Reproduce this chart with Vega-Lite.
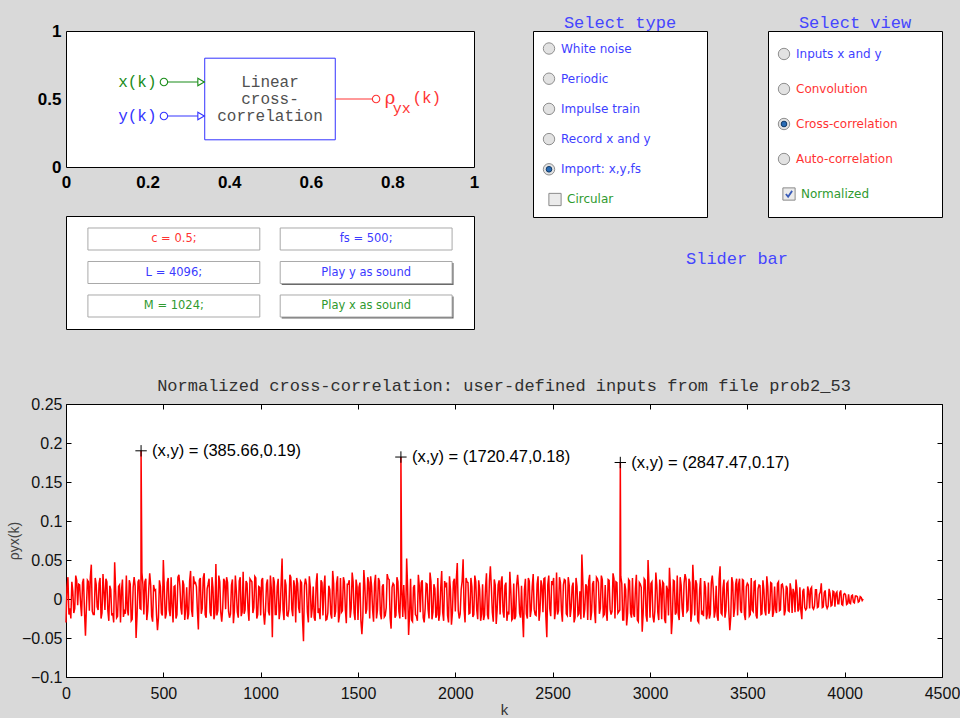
{
  "$schema": "https://vega.github.io/schema/vega-lite/v6.json",
  "background": "#d9d9d9",
  "padding": {"left": 7, "top": 13, "right": 0, "bottom": 0},
  "spacing": 46,
  "resolve": {"scale": {"color": "independent"}},
  "config": {
    "view": {"stroke": "#000000", "strokeWidth": 1, "fill": "#ffffff"},
    "axis": {"labelFlush": false, "labelOverlap": false, "grid": false, "domain": false, "labelBound": false},
    "title": {"fontWeight": "normal"}
  },
  "datasets": {
    "xcorr": [
      {"k":0,"r":-0.030},{"k":10,"r":0.028},{"k":20,"r":-0.012},{"k":30,"r":0.022},{"k":40,"r":-0.018},{"k":50,"r":0.030},{"k":60,"r":-0.008},{"k":70,"r":0.018},{"k":80,"r":-0.022},{"k":90,"r":0.026},
      {"k":100,"r":-0.047},{"k":110,"r":0.024},{"k":120,"r":-0.015},{"k":130,"r":0.044},{"k":140,"r":-0.020},{"k":150,"r":0.027},{"k":160,"r":-0.010},{"k":170,"r":0.020},{"k":180,"r":-0.025},{"k":190,"r":0.032},
      {"k":200,"r":-0.014},{"k":210,"r":0.022},{"k":220,"r":-0.028},{"k":230,"r":0.012},{"k":240,"r":-0.018},{"k":250,"r":0.047},{"k":260,"r":-0.024},{"k":270,"r":0.016},{"k":280,"r":-0.030},{"k":290,"r":0.025},
      {"k":300,"r":-0.016},{"k":310,"r":0.030},{"k":320,"r":-0.021},{"k":330,"r":0.019},{"k":340,"r":-0.026},{"k":350,"r":0.028},{"k":360,"r":-0.050},{"k":370,"r":0.022},{"k":380,"r":-0.012},{"k":385.66,"r":0.19},{"k":390,"r":0.034},
      {"k":400,"r":-0.020},{"k":410,"r":0.026},{"k":420,"r":-0.015},{"k":430,"r":0.033},{"k":440,"r":-0.022},{"k":450,"r":0.018},{"k":460,"r":0.012},{"k":470,"r":-0.040},{"k":480,"r":0.024},{"k":490,"r":-0.018},
      {"k":500,"r":0.050},{"k":510,"r":-0.025},{"k":520,"r":0.021},{"k":530,"r":-0.014},{"k":540,"r":0.028},{"k":550,"r":-0.030},{"k":560,"r":0.017},{"k":570,"r":-0.020},{"k":580,"r":0.031},{"k":590,"r":-0.011},
      {"k":600,"r":0.024},{"k":610,"r":-0.027},{"k":620,"r":0.015},{"k":630,"r":-0.019},{"k":640,"r":0.036},{"k":650,"r":-0.023},{"k":660,"r":0.020},{"k":670,"r":0.016},{"k":680,"r":-0.039},{"k":690,"r":0.027},
      {"k":700,"r":-0.012},{"k":710,"r":0.033},{"k":720,"r":-0.024},{"k":730,"r":0.019},{"k":740,"r":-0.017},{"k":750,"r":0.028},{"k":760,"r":-0.026},{"k":770,"r":0.045},{"k":780,"r":-0.015},{"k":790,"r":0.022},
      {"k":800,"r":-0.029},{"k":810,"r":0.026},{"k":820,"r":-0.013},{"k":830,"r":0.021},{"k":840,"r":-0.024},{"k":850,"r":0.018},{"k":860,"r":-0.031},{"k":870,"r":0.030},{"k":880,"r":-0.017},{"k":890,"r":0.023},
      {"k":900,"r":-0.022},{"k":910,"r":0.035},{"k":920,"r":-0.014},{"k":930,"r":0.020},{"k":940,"r":-0.028},{"k":950,"r":0.024},{"k":960,"r":-0.018},{"k":970,"r":0.029},{"k":980,"r":-0.025},{"k":990,"r":0.016},
      {"k":1000,"r":-0.021},{"k":1010,"r":0.027},{"k":1020,"r":-0.033},{"k":1030,"r":0.019},{"k":1040,"r":-0.016},{"k":1050,"r":0.030},{"k":1060,"r":-0.049},{"k":1070,"r":0.022},{"k":1080,"r":-0.020},{"k":1090,"r":0.026},
      {"k":1100,"r":-0.015},{"k":1110,"r":0.052},{"k":1120,"r":-0.027},{"k":1130,"r":0.018},{"k":1140,"r":-0.022},{"k":1150,"r":0.031},{"k":1160,"r":-0.013},{"k":1170,"r":0.024},{"k":1180,"r":-0.030},{"k":1190,"r":0.020},
      {"k":1200,"r":-0.018},{"k":1210,"r":0.021},{"k":1220,"r":-0.054},{"k":1230,"r":0.026},{"k":1240,"r":-0.017},{"k":1250,"r":0.029},{"k":1260,"r":-0.024},{"k":1270,"r":0.016},{"k":1280,"r":-0.028},{"k":1290,"r":0.033},
      {"k":1300,"r":-0.012},{"k":1310,"r":0.024},{"k":1320,"r":-0.021},{"k":1330,"r":0.030},{"k":1340,"r":-0.026},{"k":1350,"r":0.017},{"k":1360,"r":-0.019},{"k":1370,"r":0.036},{"k":1380,"r":-0.023},{"k":1390,"r":0.020},
      {"k":1400,"r":-0.030},{"k":1410,"r":0.027},{"k":1420,"r":-0.015},{"k":1430,"r":0.022},{"k":1440,"r":-0.031},{"k":1450,"r":0.019},{"k":1460,"r":-0.024},{"k":1470,"r":0.034},{"k":1480,"r":-0.018},{"k":1490,"r":0.025},
      {"k":1500,"r":-0.027},{"k":1510,"r":0.021},{"k":1520,"r":-0.045},{"k":1530,"r":0.037},{"k":1540,"r":-0.019},{"k":1550,"r":0.028},{"k":1560,"r":-0.025},{"k":1570,"r":0.016},{"k":1580,"r":-0.029},{"k":1590,"r":0.031},
      {"k":1600,"r":-0.014},{"k":1610,"r":0.023},{"k":1620,"r":-0.026},{"k":1630,"r":0.019},{"k":1640,"r":-0.021},{"k":1650,"r":0.032},{"k":1660,"r":0.025},{"k":1670,"r":-0.038},{"k":1680,"r":0.020},{"k":1690,"r":-0.024},
      {"k":1700,"r":0.028},{"k":1710,"r":-0.016},{"k":1720,"r":0.024},{"k":1720.47,"r":0.182},{"k":1730,"r":-0.023},{"k":1740,"r":-0.012},{"k":1750,"r":0.052},{"k":1760,"r":-0.046},{"k":1770,"r":0.026},{"k":1780,"r":-0.029},{"k":1790,"r":0.018},
      {"k":1800,"r":-0.022},{"k":1810,"r":0.031},{"k":1820,"r":-0.017},{"k":1830,"r":0.024},{"k":1840,"r":-0.030},{"k":1850,"r":0.020},{"k":1860,"r":-0.013},{"k":1870,"r":0.034},{"k":1880,"r":-0.026},{"k":1890,"r":0.019},
      {"k":1900,"r":-0.024},{"k":1910,"r":0.027},{"k":1920,"r":-0.019},{"k":1930,"r":0.036},{"k":1940,"r":-0.028},{"k":1950,"r":0.015},{"k":1960,"r":-0.021},{"k":1970,"r":0.029},{"k":1980,"r":-0.033},{"k":1990,"r":0.022},
      {"k":2000,"r":-0.016},{"k":2010,"r":0.046},{"k":2020,"r":-0.025},{"k":2030,"r":0.012},{"k":2040,"r":0.051},{"k":2050,"r":-0.030},{"k":2060,"r":0.022},{"k":2070,"r":-0.019},{"k":2080,"r":0.027},{"k":2090,"r":-0.023},
      {"k":2100,"r":0.030},{"k":2110,"r":-0.014},{"k":2120,"r":0.024},{"k":2130,"r":-0.028},{"k":2140,"r":0.019},{"k":2150,"r":-0.021},{"k":2160,"r":0.033},{"k":2170,"r":-0.026},{"k":2180,"r":0.042},{"k":2190,"r":-0.017},
      {"k":2200,"r":0.025},{"k":2210,"r":-0.032},{"k":2220,"r":0.018},{"k":2230,"r":-0.020},{"k":2240,"r":0.029},{"k":2250,"r":-0.024},{"k":2260,"r":0.021},{"k":2270,"r":-0.016},{"k":2280,"r":0.035},{"k":2290,"r":-0.027},
      {"k":2300,"r":0.020},{"k":2310,"r":-0.022},{"k":2320,"r":0.031},{"k":2330,"r":-0.018},{"k":2340,"r":0.017},{"k":2350,"r":-0.049},{"k":2360,"r":0.026},{"k":2370,"r":-0.025},{"k":2380,"r":0.023},{"k":2390,"r":-0.014},
      {"k":2400,"r":0.032},{"k":2410,"r":-0.020},{"k":2420,"r":0.019},{"k":2430,"r":-0.028},{"k":2440,"r":0.024},{"k":2450,"r":-0.017},{"k":2460,"r":0.027},{"k":2470,"r":-0.049},{"k":2480,"r":0.030},{"k":2490,"r":-0.022},
      {"k":2500,"r":0.018},{"k":2510,"r":-0.026},{"k":2520,"r":0.034},{"k":2530,"r":-0.015},{"k":2540,"r":0.021},{"k":2550,"r":-0.029},{"k":2560,"r":0.025},{"k":2570,"r":-0.019},{"k":2580,"r":0.028},{"k":2590,"r":-0.023},
      {"k":2600,"r":0.016},{"k":2610,"r":-0.030},{"k":2620,"r":0.027},{"k":2630,"r":-0.021},{"k":2640,"r":0.010},{"k":2650,"r":0.057},{"k":2660,"r":-0.024},{"k":2670,"r":0.019},{"k":2680,"r":-0.027},{"k":2690,"r":0.031},
      {"k":2700,"r":-0.017},{"k":2710,"r":0.023},{"k":2720,"r":-0.031},{"k":2730,"r":0.026},{"k":2740,"r":-0.019},{"k":2750,"r":0.030},{"k":2760,"r":-0.022},{"k":2770,"r":0.018},{"k":2780,"r":-0.028},{"k":2790,"r":0.024},
      {"k":2800,"r":-0.020},{"k":2810,"r":0.033},{"k":2820,"r":-0.025},{"k":2830,"r":0.021},{"k":2840,"r":-0.016},{"k":2847.47,"r":0.175},{"k":2850,"r":0.029},{"k":2860,"r":-0.027},{"k":2870,"r":0.020},{"k":2880,"r":-0.034},{"k":2890,"r":0.025},
      {"k":2900,"r":-0.018},{"k":2910,"r":0.027},{"k":2920,"r":-0.023},{"k":2930,"r":0.031},{"k":2940,"r":-0.029},{"k":2950,"r":0.019},{"k":2960,"r":-0.042},{"k":2970,"r":0.026},{"k":2980,"r":-0.021},{"k":2990,"r":0.050},
      {"k":3000,"r":-0.024},{"k":3010,"r":0.022},{"k":3020,"r":-0.030},{"k":3030,"r":0.034},{"k":3040,"r":-0.017},{"k":3050,"r":0.025},{"k":3060,"r":-0.026},{"k":3070,"r":0.020},{"k":3080,"r":-0.031},{"k":3090,"r":0.012},
      {"k":3100,"r":0.040},{"k":3110,"r":-0.045},{"k":3120,"r":0.024},{"k":3130,"r":-0.020},{"k":3140,"r":0.030},{"k":3150,"r":-0.027},{"k":3160,"r":0.018},{"k":3170,"r":-0.023},{"k":3180,"r":0.032},{"k":3190,"r":-0.016},
      {"k":3200,"r":0.026},{"k":3210,"r":-0.029},{"k":3220,"r":0.044},{"k":3230,"r":-0.021},{"k":3240,"r":0.019},{"k":3250,"r":-0.030},{"k":3260,"r":0.027},{"k":3270,"r":-0.017},{"k":3280,"r":0.023},{"k":3290,"r":-0.026},
      {"k":3300,"r":0.021},{"k":3310,"r":-0.019},{"k":3320,"r":0.030},{"k":3330,"r":-0.024},{"k":3340,"r":0.017},{"k":3350,"r":-0.028},{"k":3360,"r":0.042},{"k":3370,"r":-0.020},{"k":3380,"r":0.025},{"k":3390,"r":-0.015},
      {"k":3400,"r":0.022},{"k":3410,"r":-0.040},{"k":3420,"r":0.028},{"k":3430,"r":-0.023},{"k":3440,"r":0.019},{"k":3450,"r":-0.021},{"k":3460,"r":0.026},{"k":3470,"r":-0.018},{"k":3480,"r":0.024},{"k":3490,"r":-0.027},
      {"k":3500,"r":0.020},{"k":3510,"r":-0.022},{"k":3520,"r":0.027},{"k":3530,"r":-0.016},{"k":3540,"r":0.023},{"k":3550,"r":-0.025},{"k":3560,"r":0.018},{"k":3570,"r":-0.020},{"k":3580,"r":0.024},{"k":3590,"r":-0.015},
      {"k":3600,"r":0.029},{"k":3610,"r":-0.019},{"k":3620,"r":0.021},{"k":3630,"r":-0.023},{"k":3640,"r":0.016},{"k":3650,"r":-0.018},{"k":3660,"r":0.022},{"k":3670,"r":-0.014},{"k":3680,"r":0.019},{"k":3690,"r":-0.021},
      {"k":3700,"r":0.017},{"k":3710,"r":-0.015},{"k":3720,"r":0.020},{"k":3730,"r":-0.018},{"k":3740,"r":0.008},{"k":3750,"r":0.025},{"k":3760,"r":-0.016},{"k":3770,"r":0.015},{"k":3780,"r":-0.026},{"k":3790,"r":0.013},
      {"k":3800,"r":-0.014},{"k":3810,"r":0.016},{"k":3820,"r":-0.012},{"k":3830,"r":0.015},{"k":3840,"r":-0.013},{"k":3850,"r":0.012},{"k":3860,"r":-0.011},{"k":3870,"r":0.006},{"k":3880,"r":0.020},{"k":3890,"r":-0.010},
      {"k":3900,"r":0.011},{"k":3910,"r":-0.012},{"k":3920,"r":0.013},{"k":3930,"r":-0.009},{"k":3940,"r":0.010},{"k":3950,"r":-0.010},{"k":3960,"r":0.009},{"k":3970,"r":-0.006},{"k":3980,"r":0.011},{"k":3990,"r":-0.008},
      {"k":4000,"r":0.007},{"k":4010,"r":-0.007},{"k":4020,"r":0.006},{"k":4030,"r":-0.006},{"k":4040,"r":0.005},{"k":4050,"r":-0.005},{"k":4060,"r":0.004},{"k":4070,"r":-0.004},{"k":4080,"r":0.003},{"k":4090,"r":-0.002},{"k":4095,"r":0},
      {"k":5,"r":0.015},{"k":15,"r":-0.020},{"k":25,"r":-0.025},{"k":35,"r":0.010},{"k":45,"r":-0.012},{"k":55,"r":0.024},{"k":65,"r":0.019},{"k":75,"r":-0.006},{"k":85,"r":0.021},{"k":95,"r":-0.017},
      {"k":105,"r":-0.010},{"k":115,"r":0.022},{"k":125,"r":0.028},{"k":135,"r":-0.016},{"k":145,"r":-0.020},{"k":155,"r":0.019},{"k":165,"r":-0.014},{"k":175,"r":0.027},{"k":185,"r":-0.018},{"k":195,"r":0.009},
      {"k":205,"r":0.026},{"k":215,"r":-0.015},{"k":225,"r":0.017},{"k":235,"r":-0.021},{"k":245,"r":-0.030},{"k":255,"r":0.012},{"k":265,"r":-0.022},{"k":275,"r":0.018},{"k":285,"r":0.011},{"k":295,"r":-0.023},
      {"k":305,"r":-0.019},{"k":315,"r":-0.013},{"k":325,"r":0.024},{"k":335,"r":-0.028},{"k":345,"r":0.015},{"k":355,"r":0.017},{"k":365,"r":-0.021},{"k":375,"r":0.025},{"k":385,"r":-0.013},{"k":395,"r":0.019},
      {"k":405,"r":0.022},{"k":415,"r":-0.027},{"k":425,"r":0.012},{"k":435,"r":0.018},{"k":445,"r":-0.029},{"k":455,"r":0.011},{"k":465,"r":-0.020},{"k":475,"r":-0.024},{"k":485,"r":0.016},{"k":495,"r":-0.021},
      {"k":505,"r":0.013},{"k":515,"r":-0.019},{"k":525,"r":0.027},{"k":535,"r":-0.022},{"k":545,"r":-0.010},{"k":555,"r":0.016},{"k":565,"r":-0.025},{"k":575,"r":0.028},{"k":585,"r":0.017},{"k":595,"r":-0.020},
      {"k":605,"r":0.018},{"k":615,"r":-0.012},{"k":625,"r":-0.026},{"k":635,"r":0.023},{"k":645,"r":-0.014},{"k":655,"r":0.029},{"k":665,"r":0.021},{"k":675,"r":-0.015},{"k":685,"r":0.024},{"k":695,"r":-0.019},
      {"k":705,"r":0.027},{"k":715,"r":-0.020},{"k":725,"r":0.013},{"k":735,"r":0.026},{"k":745,"r":-0.022},{"k":755,"r":0.014},{"k":765,"r":-0.018},{"k":775,"r":-0.021},{"k":785,"r":0.030},{"k":795,"r":-0.017},
      {"k":805,"r":-0.012},{"k":815,"r":0.023},{"k":825,"r":0.028},{"k":835,"r":-0.016},{"k":845,"r":-0.019},{"k":855,"r":0.025},{"k":865,"r":-0.015},{"k":875,"r":0.011},{"k":885,"r":-0.024},{"k":895,"r":0.028},
      {"k":905,"r":-0.017},{"k":915,"r":-0.019},{"k":925,"r":0.023},{"k":935,"r":-0.013},{"k":945,"r":0.026},{"k":955,"r":0.022},{"k":965,"r":-0.011},{"k":975,"r":0.027},{"k":985,"r":-0.020},{"k":995,"r":0.015},
      {"k":1005,"r":0.024},{"k":1015,"r":-0.018},{"k":1025,"r":-0.014},{"k":1035,"r":0.025},{"k":1045,"r":-0.021},{"k":1055,"r":0.012},{"k":1065,"r":0.028},{"k":1075,"r":-0.020},{"k":1085,"r":0.016},{"k":1095,"r":-0.026},
      {"k":1105,"r":0.019},{"k":1115,"r":-0.014},{"k":1125,"r":0.025},{"k":1135,"r":-0.021},{"k":1145,"r":-0.013},{"k":1155,"r":0.028},{"k":1165,"r":-0.022},{"k":1175,"r":0.016},{"k":1185,"r":0.027},{"k":1195,"r":-0.011},
      {"k":1205,"r":0.023},{"k":1215,"r":-0.026},{"k":1225,"r":0.017},{"k":1235,"r":0.019},{"k":1245,"r":-0.030},{"k":1255,"r":0.015},{"k":1265,"r":-0.012},{"k":1275,"r":-0.024},{"k":1285,"r":0.020},{"k":1295,"r":-0.018},
      {"k":1305,"r":-0.026},{"k":1315,"r":0.021},{"k":1325,"r":0.014},{"k":1335,"r":-0.027},{"k":1345,"r":-0.018},{"k":1355,"r":0.012},{"k":1365,"r":-0.025},{"k":1375,"r":0.020},{"k":1385,"r":-0.016},{"k":1395,"r":0.029},
      {"k":1405,"r":-0.021},{"k":1415,"r":-0.017},{"k":1425,"r":0.028},{"k":1435,"r":-0.013},{"k":1445,"r":0.019},{"k":1455,"r":0.024},{"k":1465,"r":-0.012},{"k":1475,"r":0.022},{"k":1485,"r":-0.027},{"k":1495,"r":0.016},
      {"k":1505,"r":0.015},{"k":1515,"r":-0.028},{"k":1525,"r":-0.022},{"k":1535,"r":0.018},{"k":1545,"r":-0.013},{"k":1555,"r":0.021},{"k":1565,"r":0.029},{"k":1575,"r":-0.014},{"k":1585,"r":0.020},{"k":1595,"r":-0.025},
      {"k":1605,"r":0.027},{"k":1615,"r":-0.019},{"k":1625,"r":0.016},{"k":1635,"r":-0.023},{"k":1645,"r":-0.011},{"k":1655,"r":0.026},{"k":1665,"r":-0.024},{"k":1675,"r":0.015},{"k":1685,"r":0.018},{"k":1695,"r":-0.021},
      {"k":1705,"r":0.022},{"k":1715,"r":-0.025},{"k":1725,"r":0.013},{"k":1735,"r":0.018},{"k":1745,"r":-0.026},{"k":1755,"r":0.014},{"k":1765,"r":-0.019},{"k":1775,"r":-0.027},{"k":1785,"r":0.015},{"k":1795,"r":-0.020},
      {"k":1805,"r":-0.028},{"k":1815,"r":0.016},{"k":1825,"r":0.021},{"k":1835,"r":-0.024},{"k":1845,"r":-0.012},{"k":1855,"r":0.019},{"k":1865,"r":-0.025},{"k":1875,"r":0.022},{"k":1885,"r":-0.017},{"k":1895,"r":0.013},
      {"k":1905,"r":-0.020},{"k":1915,"r":-0.028},{"k":1925,"r":0.014},{"k":1935,"r":-0.017},{"k":1945,"r":0.023},{"k":1955,"r":0.021},{"k":1965,"r":-0.030},{"k":1975,"r":0.012},{"k":1985,"r":-0.018},{"k":1995,"r":0.026},
      {"k":2005,"r":0.025},{"k":2015,"r":-0.015},{"k":2025,"r":-0.019},{"k":2035,"r":0.023},{"k":2045,"r":-0.013},{"k":2055,"r":0.027},{"k":2065,"r":0.021},{"k":2075,"r":-0.018},{"k":2085,"r":0.016},{"k":2095,"r":-0.020},
      {"k":2105,"r":0.022},{"k":2115,"r":-0.026},{"k":2125,"r":0.012},{"k":2135,"r":-0.019},{"k":2145,"r":-0.027},{"k":2155,"r":0.014},{"k":2165,"r":-0.020},{"k":2175,"r":0.023},{"k":2185,"r":0.015},{"k":2195,"r":-0.029},
      {"k":2205,"r":0.018},{"k":2215,"r":-0.013},{"k":2225,"r":0.024},{"k":2235,"r":0.022},{"k":2245,"r":-0.016},{"k":2255,"r":0.017},{"k":2265,"r":-0.028},{"k":2275,"r":-0.020},{"k":2285,"r":0.011},{"k":2295,"r":-0.025},
      {"k":2305,"r":-0.026},{"k":2315,"r":0.018},{"k":2325,"r":0.014},{"k":2335,"r":-0.024},{"k":2345,"r":-0.021},{"k":2355,"r":0.012},{"k":2365,"r":-0.019},{"k":2375,"r":0.027},{"k":2385,"r":-0.023},{"k":2395,"r":0.016},
      {"k":2405,"r":-0.013},{"k":2415,"r":-0.021},{"k":2425,"r":0.029},{"k":2435,"r":-0.015},{"k":2445,"r":0.017},{"k":2455,"r":0.026},{"k":2465,"r":-0.022},{"k":2475,"r":0.019},{"k":2485,"r":-0.012},{"k":2495,"r":0.023},
      {"k":2505,"r":0.027},{"k":2515,"r":-0.014},{"k":2525,"r":-0.020},{"k":2535,"r":0.028},{"k":2545,"r":-0.015},{"k":2555,"r":0.018},{"k":2565,"r":0.024},{"k":2575,"r":-0.021},{"k":2585,"r":0.018},{"k":2595,"r":-0.012},
      {"k":2605,"r":0.021},{"k":2615,"r":-0.024},{"k":2625,"r":0.016},{"k":2635,"r":-0.019},{"k":2645,"r":-0.026},{"k":2655,"r":0.022},{"k":2665,"r":-0.013},{"k":2675,"r":0.016},{"k":2685,"r":0.023},{"k":2695,"r":-0.027},
      {"k":2705,"r":0.019},{"k":2715,"r":-0.015},{"k":2725,"r":0.028},{"k":2735,"r":0.021},{"k":2745,"r":-0.012},{"k":2755,"r":0.025},{"k":2765,"r":-0.020},{"k":2775,"r":-0.017},{"k":2785,"r":0.025},{"k":2795,"r":-0.013},
      {"k":2805,"r":-0.016},{"k":2815,"r":0.026},{"k":2825,"r":0.022},{"k":2835,"r":-0.018},{"k":2845,"r":-0.014},{"k":2855,"r":0.020},{"k":2865,"r":-0.027},{"k":2875,"r":0.012},{"k":2885,"r":-0.019},{"k":2895,"r":0.023},
      {"k":2905,"r":-0.024},{"k":2915,"r":-0.019},{"k":2925,"r":0.013},{"k":2935,"r":-0.027},{"k":2945,"r":0.021},{"k":2955,"r":0.015},{"k":2965,"r":-0.018},{"k":2975,"r":0.024},{"k":2985,"r":-0.029},{"k":2995,"r":0.016},
      {"k":3005,"r":0.020},{"k":3015,"r":-0.022},{"k":3025,"r":-0.015},{"k":3035,"r":0.018},{"k":3045,"r":-0.027},{"k":3055,"r":0.013},{"k":3065,"r":0.022},{"k":3075,"r":-0.026},{"k":3085,"r":0.017},{"k":3095,"r":-0.021},
      {"k":3105,"r":0.014},{"k":3115,"r":-0.025},{"k":3125,"r":0.023},{"k":3135,"r":-0.017},{"k":3145,"r":-0.019},{"k":3155,"r":0.028},{"k":3165,"r":-0.012},{"k":3175,"r":0.020},{"k":3185,"r":0.026},{"k":3195,"r":-0.014},
      {"k":3205,"r":0.021},{"k":3215,"r":-0.018},{"k":3225,"r":0.016},{"k":3235,"r":0.024},{"k":3245,"r":-0.028},{"k":3255,"r":0.012},{"k":3265,"r":-0.020},{"k":3275,"r":-0.022},{"k":3285,"r":0.015},{"k":3295,"r":-0.019},
      {"k":3305,"r":-0.025},{"k":3315,"r":0.021},{"k":3325,"r":0.013},{"k":3335,"r":-0.016},{"k":3345,"r":-0.022},{"k":3355,"r":0.026},{"k":3365,"r":-0.018},{"k":3375,"r":0.014},{"k":3385,"r":-0.024},{"k":3395,"r":0.020},
      {"k":3405,"r":-0.017},{"k":3415,"r":-0.023},{"k":3425,"r":0.021},{"k":3435,"r":-0.012},{"k":3445,"r":0.026},{"k":3455,"r":0.019},{"k":3465,"r":-0.014},{"k":3475,"r":0.025},{"k":3485,"r":-0.020},{"k":3495,"r":0.016},
      {"k":3505,"r":0.018},{"k":3515,"r":-0.020},{"k":3525,"r":-0.014},{"k":3535,"r":0.022},{"k":3545,"r":-0.021},{"k":3555,"r":0.013},{"k":3565,"r":0.017},{"k":3575,"r":-0.019},{"k":3585,"r":0.012},{"k":3595,"r":-0.021},
      {"k":3605,"r":0.016},{"k":3615,"r":-0.014},{"k":3625,"r":0.020},{"k":3635,"r":-0.017},{"k":3645,"r":-0.013},{"k":3655,"r":0.020},{"k":3665,"r":-0.015},{"k":3675,"r":0.018},{"k":3685,"r":0.012},{"k":3695,"r":-0.015},
      {"k":3705,"r":0.014},{"k":3715,"r":-0.016},{"k":3725,"r":0.011},{"k":3735,"r":0.013},{"k":3745,"r":-0.017},{"k":3755,"r":0.012},{"k":3765,"r":-0.013},{"k":3775,"r":-0.015},{"k":3785,"r":0.010},{"k":3795,"r":-0.011},
      {"k":3805,"r":-0.012},{"k":3815,"r":0.010},{"k":3825,"r":0.013},{"k":3835,"r":-0.011},{"k":3845,"r":-0.009},{"k":3855,"r":0.012},{"k":3865,"r":-0.010},{"k":3875,"r":0.009},{"k":3885,"r":-0.011},{"k":3895,"r":0.008},
      {"k":3905,"r":-0.008},{"k":3915,"r":-0.009},{"k":3925,"r":0.007},{"k":3935,"r":-0.008},{"k":3945,"r":0.009},{"k":3955,"r":0.007},{"k":3965,"r":-0.006},{"k":3975,"r":0.008},{"k":3985,"r":-0.007},{"k":3995,"r":0.006},
      {"k":4005,"r":0.005},{"k":4015,"r":-0.006},{"k":4025,"r":-0.005},{"k":4035,"r":0.004},{"k":4045,"r":-0.004},{"k":4055,"r":0.004},{"k":4065,"r":0.003},{"k":4075,"r":-0.003},{"k":4085,"r":0.002}
    ],
    "peaks": [
      {"k":385.66,"r":0.19,"label":"(x,y) = (385.66,0.19)"},
      {"k":1720.47,"r":0.182,"label":"(x,y) = (1720.47,0.18)"},
      {"k":2847.47,"r":0.175,"label":"(x,y) = (2847.47,0.17)"}
    ]
  },
  "vconcat": [
    {
      "spacing": 52,
      "resolve": {"scale": {"color": "independent"}},
      "hconcat": [
        {
          "spacing": 24,
          "resolve": {"scale": {"color": "independent"}},
          "vconcat": [
            {
              "width": 408,
              "height": 136,
              "layer": [
                {
                  "data": {"values": [{"part": "block", "x0": 0.34, "x1": 0.66, "y0": 0.2, "y1": 0.8}]},
                  "mark": {"type": "rect", "fill": "#ffffff", "stroke": "#3333ff", "strokeWidth": 1},
                  "encoding": {
                    "x": {"field": "x0", "type": "quantitative", "scale": {"domain": [0, 1], "nice": false},
                      "axis": {"values": [0, 0.2, 0.4, 0.6, 0.8, 1], "format": "~g", "title": null, "ticks": false, "tickSize": 0,
                        "labelFont": "Liberation Sans", "labelFontWeight": "bold", "labelFontSize": 17, "labelColor": "#000000", "labelPadding": 7}},
                    "x2": {"field": "x1"},
                    "y": {"field": "y0", "type": "quantitative", "scale": {"domain": [0, 1], "nice": false},
                      "axis": {"values": [0, 0.5, 1], "format": "~g", "title": null, "ticks": false, "tickSize": 0,
                        "labelFont": "Liberation Sans", "labelFontWeight": "bold", "labelFontSize": 17, "labelColor": "#000000", "labelPadding": 5}},
                    "y2": {"field": "y1"}
                  }
                },
                {
                  "data": {"values": [
                    {"sig": "x", "from": 0.24, "to": 0.34, "level": 0.625},
                    {"sig": "y", "from": 0.24, "to": 0.34, "level": 0.375},
                    {"sig": "out", "from": 0.66, "to": 0.76, "level": 0.5}
                  ]},
                  "mark": {"type": "rule", "strokeWidth": 1.2},
                  "encoding": {
                    "x": {"field": "from", "type": "quantitative"},
                    "x2": {"field": "to"},
                    "y": {"field": "level", "type": "quantitative"},
                    "color": {"field": "sig", "type": "nominal", "scale": {"domain": ["x", "y", "out"], "range": ["#198c19", "#3434ff", "#ff3434"]}, "legend": null}
                  }
                },
                {
                  "data": {"values": [
                    {"sig": "x", "tip": 0.331, "level": 0.625},
                    {"sig": "y", "tip": 0.331, "level": 0.375}
                  ]},
                  "mark": {"type": "point", "shape": "triangle-right", "size": 55, "filled": false, "fill": "#ffffff", "strokeWidth": 1.1, "opacity": 1},
                  "encoding": {
                    "x": {"field": "tip", "type": "quantitative"},
                    "y": {"field": "level", "type": "quantitative"},
                    "color": {"field": "sig", "type": "nominal", "legend": null}
                  }
                },
                {
                  "data": {"values": [
                    {"sig": "x", "pos": 0.24, "level": 0.625},
                    {"sig": "y", "pos": 0.24, "level": 0.375},
                    {"sig": "out", "pos": 0.76, "level": 0.5}
                  ]},
                  "mark": {"type": "point", "shape": "circle", "size": 55, "filled": false, "fill": "#ffffff", "strokeWidth": 1.1, "opacity": 1},
                  "encoding": {
                    "x": {"field": "pos", "type": "quantitative"},
                    "y": {"field": "level", "type": "quantitative"},
                    "color": {"field": "sig", "type": "nominal", "legend": null}
                  }
                },
                {
                  "data": {"values": [
                    {"sig": "x", "name": "x(k)", "pos": 0.222, "level": 0.625},
                    {"sig": "y", "name": "y(k)", "pos": 0.222, "level": 0.375}
                  ]},
                  "mark": {"type": "text", "align": "right", "font": "Liberation Mono", "fontSize": 16},
                  "encoding": {
                    "x": {"field": "pos", "type": "quantitative"},
                    "y": {"field": "level", "type": "quantitative"},
                    "text": {"field": "name"},
                    "color": {"field": "sig", "type": "nominal", "legend": null}
                  }
                },
                {
                  "data": {"values": [
                    {"line": "Linear", "pos": 0.5, "level": 0.625},
                    {"line": "cross-", "pos": 0.5, "level": 0.5},
                    {"line": "correlation", "pos": 0.5, "level": 0.375}
                  ]},
                  "mark": {"type": "text", "font": "Liberation Mono", "fontSize": 16, "color": "#505050"},
                  "encoding": {
                    "x": {"field": "pos", "type": "quantitative"},
                    "y": {"field": "level", "type": "quantitative"},
                    "text": {"field": "line"}
                  }
                },
                {
                  "data": {"values": [{"sig": "out", "sym": "ρ", "pos": 0.781, "level": 0.5}]},
                  "mark": {"type": "text", "align": "left", "font": "DejaVu Serif", "fontSize": 18, "color": "#ff3434"},
                  "encoding": {
                    "x": {"field": "pos", "type": "quantitative"},
                    "y": {"field": "level", "type": "quantitative"},
                    "text": {"field": "sym"}
                  }
                },
                {
                  "data": {"values": [{"sig": "out", "sym": "yx", "pos": 0.801, "level": 0.5}]},
                  "mark": {"type": "text", "align": "left", "dy": 9, "font": "Liberation Mono", "fontSize": 15, "color": "#ff3434"},
                  "encoding": {
                    "x": {"field": "pos", "type": "quantitative"},
                    "y": {"field": "level", "type": "quantitative"},
                    "text": {"field": "sym"}
                  }
                },
                {
                  "data": {"values": [{"sig": "out", "sym": "(k)", "pos": 0.849, "level": 0.5}]},
                  "mark": {"type": "text", "align": "left", "dy": -1, "font": "Liberation Mono", "fontSize": 16, "color": "#ff3434"},
                  "encoding": {
                    "x": {"field": "pos", "type": "quantitative"},
                    "y": {"field": "level", "type": "quantitative"},
                    "text": {"field": "sym"}
                  }
                }
              ]
            },
            {
              "width": 408,
              "height": 113,
              "data": {"values": [
                {"col": "left", "row": 1, "label": "c = 0.5;", "relates": "c", "kind": "edit"},
                {"col": "right", "row": 1, "label": "fs = 500;", "relates": "y", "kind": "edit"},
                {"col": "left", "row": 2, "label": "L = 4096;", "relates": "y", "kind": "edit"},
                {"col": "right", "row": 2, "label": "Play y as sound", "relates": "y", "kind": "button"},
                {"col": "left", "row": 3, "label": "M = 1024;", "relates": "x", "kind": "edit"},
                {"col": "right", "row": 3, "label": "Play x as sound", "relates": "x", "kind": "button"}
              ]},
              "encoding": {
                "x": {"field": "col", "type": "nominal", "scale": {"domain": ["left", "right"], "paddingInner": 0.106, "paddingOuter": 0.114}, "axis": null},
                "y": {"field": "row", "type": "ordinal", "scale": {"domain": [1, 2, 3], "paddingInner": 0.343, "paddingOuter": 0.358}, "axis": null}
              },
              "layer": [
                {
                  "transform": [{"filter": "datum.kind === 'button'"}],
                  "mark": {"type": "rect", "fill": "#6a6a6a", "xOffset": 1.5, "yOffset": 1.5}
                },
                {
                  "mark": {"type": "rect", "fill": "#ffffff", "stroke": "#a9a9a9", "strokeWidth": 1}
                },
                {
                  "mark": {"type": "text", "font": "DejaVu Sans", "fontSize": 11.5},
                  "encoding": {
                    "text": {"field": "label"},
                    "color": {"field": "relates", "type": "nominal", "scale": {"domain": ["c", "y", "x"], "range": ["#ff3333", "#3b3bff", "#2f9a2f"]}, "legend": null}
                  }
                }
              ]
            }
          ]
        },
        {
          "spacing": 31,
          "resolve": {"scale": {"color": "independent"}},
          "vconcat": [
            {
              "spacing": 59,
              "resolve": {"scale": {"color": "independent"}},
              "hconcat": [
                {
                  "width": 174,
                  "height": 186,
                  "title": {"text": "Select type", "font": "Liberation Mono", "fontSize": 17, "color": "#4545ff", "offset": -1, "anchor": "middle"},
                  "data": {"values": [
                    {"item": "White noise", "control": "radio", "on": false, "cat": "signal"},
                    {"item": "Periodic", "control": "radio", "on": false, "cat": "signal"},
                    {"item": "Impulse train", "control": "radio", "on": false, "cat": "signal"},
                    {"item": "Record x and y", "control": "radio", "on": false, "cat": "signal"},
                    {"item": "Import: x,y,fs", "control": "radio", "on": true, "cat": "signal"},
                    {"item": "Circular", "control": "check", "on": false, "cat": "option"}
                  ]},
                  "encoding": {
                    "y": {"field": "item", "type": "nominal", "sort": null, "scale": {"type": "point", "padding": 0.58}, "axis": null},
                    "x": {"field": "control", "type": "nominal", "scale": {"type": "point", "domain": ["radio", "check"], "range": [16, 22], "padding": 0}, "axis": null}
                  },
                  "layer": [
                    {"transform": [{"filter": "datum.control === 'radio'"}],
                     "mark": {"type": "point", "shape": "circle", "filled": true, "size": 130, "fill": "#e2e2e2", "stroke": "#8f8f8f", "strokeWidth": 1, "opacity": 1}},
                    {"transform": [{"filter": "datum.control === 'radio' && datum.on"}],
                     "mark": {"type": "point", "shape": "circle", "filled": true, "size": 32, "fill": "#2a6cb5", "stroke": "#123a66", "strokeWidth": 1, "opacity": 1}},
                    {"transform": [{"filter": "datum.control === 'check'"}],
                     "mark": {"type": "point", "shape": "square", "filled": true, "size": 150, "fill": "#ebebeb", "stroke": "#8a8a8a", "strokeWidth": 1, "opacity": 1}},
                    {"mark": {"type": "text", "align": "left", "dx": 12, "font": "DejaVu Sans", "fontSize": 12},
                     "encoding": {"text": {"field": "item"},
                       "color": {"field": "cat", "type": "nominal", "scale": {"domain": ["signal", "mode", "option"], "range": ["#3f3fff", "#ff3333", "#2f9a2f"]}, "legend": null}}}
                  ]
                },
                {
                  "width": 174,
                  "height": 186,
                  "title": {"text": "Select view", "font": "Liberation Mono", "fontSize": 17, "color": "#4545ff", "offset": -1, "anchor": "middle"},
                  "data": {"values": [
                    {"item": "Inputs x and y", "control": "radio", "on": false, "cat": "signal"},
                    {"item": "Convolution", "control": "radio", "on": false, "cat": "mode"},
                    {"item": "Cross-correlation", "control": "radio", "on": true, "cat": "mode"},
                    {"item": "Auto-correlation", "control": "radio", "on": false, "cat": "mode"},
                    {"item": "Normalized", "control": "check", "on": true, "cat": "option"}
                  ]},
                  "encoding": {
                    "y": {"field": "item", "type": "nominal", "sort": null, "scale": {"type": "point", "padding": 0.657}, "axis": null},
                    "x": {"field": "control", "type": "nominal", "scale": {"type": "point", "domain": ["radio", "check"], "range": [16, 21], "padding": 0}, "axis": null}
                  },
                  "layer": [
                    {"transform": [{"filter": "datum.control === 'radio'"}],
                     "mark": {"type": "point", "shape": "circle", "filled": true, "size": 130, "fill": "#e2e2e2", "stroke": "#8f8f8f", "strokeWidth": 1, "opacity": 1}},
                    {"transform": [{"filter": "datum.control === 'radio' && datum.on"}],
                     "mark": {"type": "point", "shape": "circle", "filled": true, "size": 32, "fill": "#2a6cb5", "stroke": "#123a66", "strokeWidth": 1, "opacity": 1}},
                    {"transform": [{"filter": "datum.control === 'check'"}],
                     "mark": {"type": "point", "shape": "square", "filled": true, "size": 150, "fill": "#ebebeb", "stroke": "#8a8a8a", "strokeWidth": 1, "opacity": 1}},
                    {"transform": [{"filter": "datum.control === 'check' && datum.on"}],
                     "mark": {"type": "point", "shape": "M-0.7,0L-0.2,0.6L0.7,-0.7", "filled": false, "size": 80, "stroke": "#3a5cb8", "strokeWidth": 1.8, "opacity": 1}},
                    {"mark": {"type": "text", "align": "left", "dx": 12, "font": "DejaVu Sans", "fontSize": 12},
                     "encoding": {"text": {"field": "item"},
                       "color": {"field": "cat", "type": "nominal", "scale": {"domain": ["signal", "mode", "option"], "range": ["#3f3fff", "#ff3333", "#2f9a2f"]}, "legend": null}}}
                  ]
                }
              ]
            },
            {
              "width": 408,
              "height": 20,
              "view": {"stroke": null, "fill": null},
              "data": {"values": [{"caption": "Slider bar"}]},
              "mark": {"type": "text", "font": "Liberation Mono", "fontSize": 17, "color": "#4545ff"},
              "encoding": {"text": {"field": "caption"}}
            }
          ]
        }
      ]
    },
    {
      "width": 876,
      "height": 273,
      "title": {"text": "Normalized cross-correlation: user-defined inputs from file prob2_53", "font": "Liberation Mono", "fontSize": 17, "color": "#303030", "offset": 1, "anchor": "middle"},
      "layer": [
        {
          "data": {"name": "xcorr"},
          "mark": {"type": "line", "color": "#ff0000", "strokeWidth": 1.5},
          "encoding": {
            "x": {"field": "k", "type": "quantitative", "scale": {"domain": [0, 4500], "nice": false},
              "axis": {"values": [0, 500, 1000, 1500, 2000, 2500, 3000, 3500, 4000, 4500], "format": "d", "title": "k",
                "titleFont": "Liberation Mono", "titleFontSize": 15, "titleFontWeight": "normal", "titleColor": "#333333", "titlePadding": 1,
                "tickSize": -5, "tickColor": "#000000", "labelFont": "Liberation Sans", "labelFontSize": 16, "labelColor": "#111111", "labelPadding": 13}},
            "y": {"field": "r", "type": "quantitative", "scale": {"domain": [-0.1, 0.25], "nice": false, "zero": false},
              "axis": {"values": [-0.1, -0.05, 0, 0.05, 0.1, 0.15, 0.2, 0.25], "format": "~g", "title": "ρyx(k)",
                "titleFont": "Liberation Sans", "titleFontSize": 14, "titleFontWeight": "normal", "titleColor": "#444444", "titlePadding": 0,
                "tickSize": -5, "tickColor": "#000000", "labelFont": "Liberation Sans", "labelFontSize": 16, "labelColor": "#111111", "labelPadding": 9}}
          }
        },
        {
          "data": {"name": "peaks"},
          "mark": {"type": "point", "shape": "M-1,0L1,0M0,-1L0,1", "size": 130, "filled": false, "color": "#000000", "strokeWidth": 1, "opacity": 1},
          "encoding": {
            "x": {"field": "k", "type": "quantitative",
              "axis": {"orient": "top", "labels": false, "title": null, "tickSize": -5, "tickColor": "#000000", "values": [0, 500, 1000, 1500, 2000, 2500, 3000, 3500, 4000, 4500]}},
            "y": {"field": "r", "type": "quantitative",
              "axis": {"orient": "right", "labels": false, "title": null, "tickSize": -5, "tickColor": "#000000", "values": [-0.1, -0.05, 0, 0.05, 0.1, 0.15, 0.2, 0.25]}}
          }
        },
        {
          "data": {"name": "peaks"},
          "mark": {"type": "text", "align": "left", "dx": 11, "font": "Liberation Sans", "fontSize": 16.5, "color": "#000000"},
          "encoding": {
            "x": {"field": "k", "type": "quantitative", "axis": null},
            "y": {"field": "r", "type": "quantitative", "axis": null},
            "text": {"field": "label"}
          }
        }
      ],
      "resolve": {"axis": {"x": "independent", "y": "independent"}}
    }
  ]
}
